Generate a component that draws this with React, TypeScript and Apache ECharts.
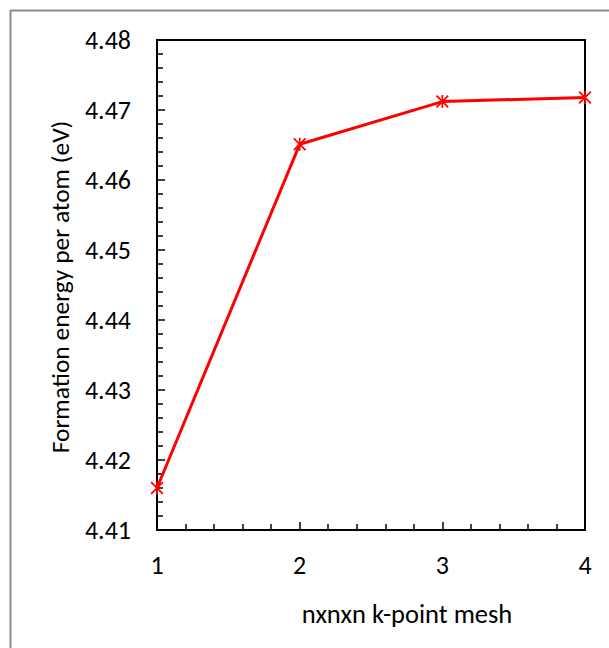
import React, { useEffect, useRef } from "react";
import * as echarts from "echarts";

const kMesh = [1, 2, 3, 4];
const formationEnergy = [4.416, 4.4651, 4.4712, 4.4718];
const yTicks = { min: 4.41, max: 4.48, step: 0.01 };
const xTitle = "nxnxn k-point mesh";
const yTitle = "Formation energy per atom (eV)";

const FONT = "Carlito, Lato, sans-serif";
const ASTERISK =
  "path://M4.35 0 L5.65 0 L5.65 10 L4.35 10 Z M0 0.95 L0.95 0 L10 9.05 L9.05 10 Z M10 0.95 L0.95 10 L0 9.05 L9.05 0 Z";

export default function App() {
  const ref = useRef<HTMLDivElement>(null);
  useEffect(() => {
    if (!ref.current) return;
    const chart = echarts.init(ref.current, null, { renderer: "svg" });
    chart.setOption({
      animation: false,
      backgroundColor: "#ffffff",
      grid: {
        left: 157,
        right: 24,
        top: 40,
        bottom: 118,
        show: true,
        borderColor: "#000",
        borderWidth: 2,
        backgroundColor: "transparent",
      },
      xAxis: {
        type: "value",
        min: 1,
        max: 4,
        interval: 1,
        axisLine: { show: true, lineStyle: { color: "#000", width: 2 } },
        axisTick: { show: true, inside: true, length: 8, lineStyle: { color: "#000", width: 1.5 } },
        minorTick: { show: true, splitNumber: 5, length: 6, lineStyle: { color: "#000", width: 1.5 } },
        splitLine: { show: false },
        axisLabel: { margin: 22, color: "#000", fontSize: 26, fontFamily: FONT },
      },
      yAxis: {
        type: "value",
        min: yTicks.min,
        max: yTicks.max,
        interval: yTicks.step,
        axisLine: { show: true, lineStyle: { color: "#000", width: 2 } },
        axisTick: { show: true, inside: true, length: 8, lineStyle: { color: "#000", width: 1.5 } },
        minorTick: { show: true, splitNumber: 5, length: 6, lineStyle: { color: "#000", width: 1.5 } },
        splitLine: { show: false },
        axisLabel: {
          margin: 26,
          color: "#000",
          fontSize: 26,
          fontFamily: FONT,
          formatter: (v: number) => v.toFixed(2),
        },
      },
      graphic: [
        {
          type: "line",
          shape: { x1: 10, y1: 10.5, x2: 609, y2: 10.5 },
          style: { stroke: "#8c8c8c", lineWidth: 2 },
        },
        {
          type: "line",
          shape: { x1: 10.5, y1: 10, x2: 10.5, y2: 648 },
          style: { stroke: "#8c8c8c", lineWidth: 2 },
        },
        {
          type: "text",
          x: 407,
          y: 614,
          style: {
            text: xTitle,
            fill: "#000",
            fontSize: 26.5,
            fontFamily: FONT,
            textAlign: "center",
            textVerticalAlign: "middle",
          },
        },
        {
          type: "text",
          x: 60,
          y: 287,
          rotation: Math.PI / 2,
          style: {
            text: yTitle,
            fill: "#000",
            fontSize: 25.5,
            fontFamily: FONT,
            textAlign: "center",
            textVerticalAlign: "middle",
          },
        },
      ],
      series: [
        {
          type: "line",
          data: kMesh.map((k, i) => [k, formationEnergy[i]]),
          lineStyle: { color: "#ff0000", width: 3 },
          itemStyle: { color: "#ff0000" },
          symbol: ASTERISK,
          symbolSize: 13,
          showSymbol: true,
          clip: false,
        },
      ],
    });
    return () => chart.dispose();
  }, []);
  return <div ref={ref} style={{ width: 609, height: 648, position: "absolute", left: 0, top: 0 }} />;
}
